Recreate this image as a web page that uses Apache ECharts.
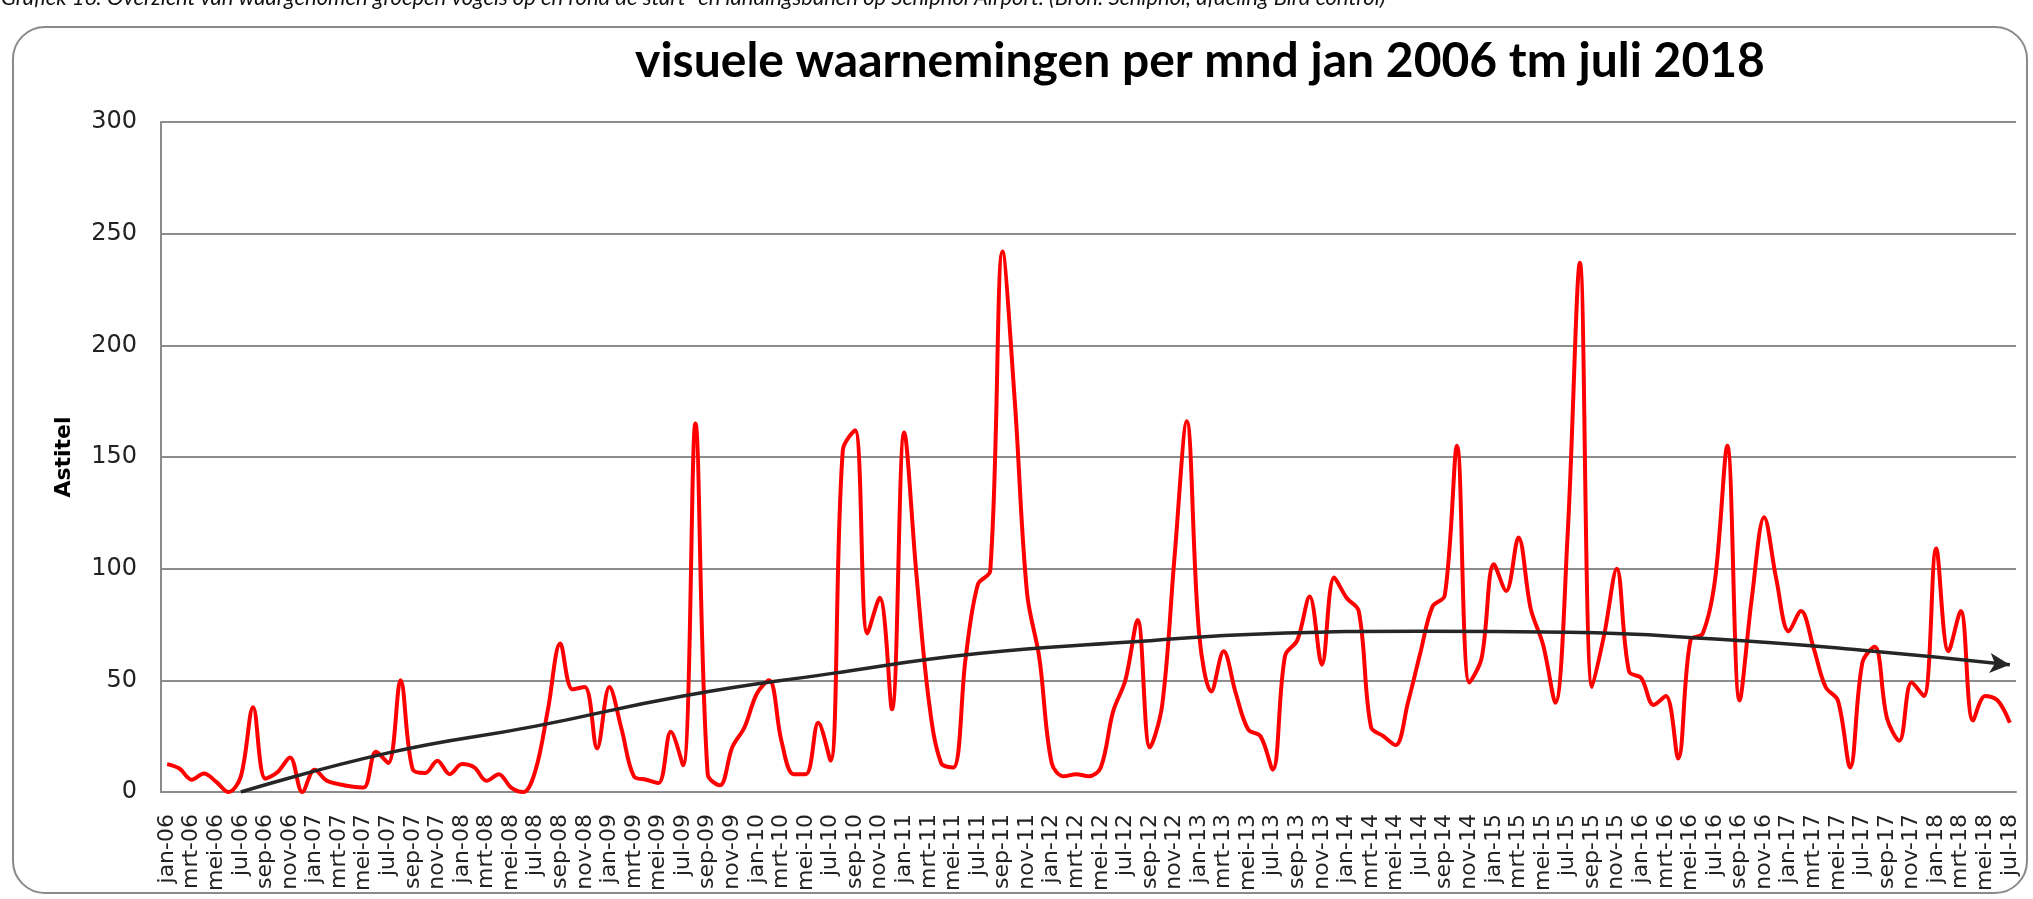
<!DOCTYPE html>
<html>
<head>
<meta charset="utf-8">
<script src="https://cdn.jsdelivr.net/npm/echarts@6/dist/echarts.min.js"></script>
<style>
html,body{margin:0;padding:0;background:#fff;}
#chart{width:2033px;height:899px;}
</style>
</head>
<body>
<div id="chart"></div>
<script>
// ---- data ----
const monthNames = ['jan','feb','mrt','apr','mei','jun','jul','aug','sep','okt','nov','dec'];
const yearLabels = ['06','07','08','09','10','11','12','13','14','15','16','17','18'];
const months = [];
yearLabels.forEach(function (yy) {
  monthNames.forEach(function (m, mi) {
    if (yy === '18' && mi > 6) return;
    months.push(m + '-' + yy);
  });
});

const counts = [
  12.5, 10.5, 5.5, 8.3, 4.5, 0, 7, 38, 6, 9, 15.5, 0,          // 2006
  10, 5, 3.5, 2.5, 2, 18, 13, 50, 10, 8.5, 14, 8,              // 2007
  12.5, 11, 5, 8, 2, 0, 10, 37, 66.5, 46, 47, 19.5,            // 2008
  47, 28, 7, 5.5, 4, 27, 12, 165, 8, 3, 20, 29,                // 2009
  44, 50, 23, 8, 8, 31, 14, 153, 162, 71, 87, 37,              // 2010
  161, 97, 41, 13, 11, 60, 93, 99, 242, 175, 89, 60,           // 2011
  13, 7, 8, 7, 11, 36, 50, 77, 20, 39, 105, 166,               // 2012
  71, 45, 63, 44, 28, 25, 10, 61, 68, 87.5, 57, 96,            // 2013
  87, 81, 29, 25, 21, 40, 62, 83, 88, 155, 49, 60,             // 2014
  102, 90, 114, 82, 66, 40, 115, 237, 47, 71, 100, 54,         // 2015
  51, 39, 43, 15, 68, 71, 95, 155, 41, 87, 123, 95,            // 2016
  72, 81, 65, 47, 41, 11, 58, 65, 33, 23, 49, 43,              // 2017
  109, 63, 81, 32, 43, 41, 31                                  // 2018
];

// trend line (polynomial trendline in the original), read at a few months
const trendMonths = ['jul-06','jul-07','jul-08','jul-09','jul-10','jul-11','jul-12','jul-13','jul-14','jul-15','jul-16','jul-17','jul-18'];
const trendValues = [0, 17.5, 29.5, 43, 53, 62, 67, 71, 72, 71.5, 68.5, 63.5, 57];

const yTicks = [0, 50, 100, 150, 200, 250, 300];

// ---- build series data ----
const trendData = months.map(function () { return null; });
trendMonths.forEach(function (m, k) {
  const idx = months.indexOf(m);
  if (k === trendMonths.length - 1) {
    trendData[idx] = { value: trendValues[k], symbol: 'arrow', symbolSize: [15, 20], symbolRotate: -95, itemStyle: { color: '#262626' } };
  } else {
    trendData[idx] = trendValues[k];
  }
});

const chart = echarts.init(document.getElementById('chart'), null, { renderer: 'canvas' });
const option = {
  animation: false,
  backgroundColor: '#ffffff',
  grid: { left: 161, right: 17, top: 122, bottom: 107, containLabel: false, outerBoundsMode: 'none' },
  xAxis: {
    type: 'category',
    data: months,
    boundaryGap: true,
    axisLine: { show: true, lineStyle: { color: '#8c8c8c', width: 2 } },
    axisTick: { show: false },
    axisLabel: { interval: 1, rotate: 90, fontFamily: 'DejaVu Sans', fontSize: 22, color: '#222', margin: 22 },
    splitLine: { show: false }
  },
  yAxis: {
    type: 'value',
    min: yTicks[0], max: yTicks[yTicks.length - 1], interval: 50,
    name: 'Astitel',
    nameLocation: 'middle',
    nameGap: 86,
    nameRotate: 90,
    nameTextStyle: { fontFamily: 'DejaVu Sans', fontWeight: 'bold', fontSize: 22, color: '#000' },
    axisLine: { show: true, lineStyle: { color: '#8c8c8c', width: 2 } },
    axisTick: { show: false },
    axisLabel: { fontFamily: 'DejaVu Sans', fontSize: 24, color: '#222', margin: 24 },
    splitLine: { lineStyle: { color: '#8c8c8c', width: 2 } }
  },
  series: [
    {
      type: 'line',
      data: counts,
      smooth: 0.35,
      symbol: 'none',
      lineStyle: { color: '#ff0000', width: 4 },
      z: 2
    },
    {
      type: 'line',
      data: trendData,
      connectNulls: true,
      smooth: 0.5,
      symbol: 'none',
      showAllSymbol: true,
      lineStyle: { color: '#262626', width: 3.5 },
      itemStyle: { color: '#262626' },
      z: 3
    }
  ],
  graphic: [
    {
      type: 'rect', z: -1, silent: true,
      shape: { x: 13, y: 27, width: 2014, height: 866, r: 32 },
      style: { fill: 'none', stroke: '#8a8a8a', lineWidth: 2 }
    },
    {
      type: 'text', left: 1, top: -13, silent: true,
      style: { text: 'Grafiek 16: Overzicht van waargenomen groepen vogels op en rond de start- en landingsbanen op Schiphol Airport. (Bron: Schiphol, afdeling Bird control)',
               font: 'italic 22px Lato', fill: '#111' }
    },
    {
      type: 'text', silent: true,
      style: { x: 1200, y: 62, text: 'visuele waarnemingen per mnd jan 2006 tm juli 2018',
               font: 'bold 48px Lato', fill: '#000', align: 'center', verticalAlign: 'middle' }
    }
  ]
};
chart.setOption(option);
</script>
</body>
</html>
